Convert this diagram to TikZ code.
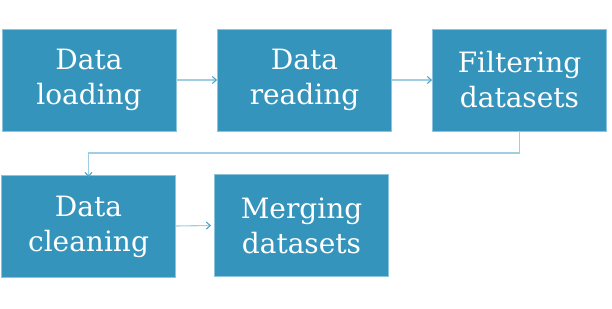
\documentclass[tikz,border=0pt]{standalone}
\usepackage{fontspec}
\setmainfont{DejaVu Serif}
\usetikzlibrary{arrows.meta}
\definecolor{boxfill}{HTML}{3594BB}
\definecolor{boxedge}{HTML}{8CC4DC}
\definecolor{linkcol}{HTML}{9FCFE3}
\definecolor{tipcol}{HTML}{4FA3CC}
\begin{document}
\begin{tikzpicture}[x=1pt,y=-1pt,
  stepbox/.style={draw=boxedge, line width=0.8pt, fill=boxfill, text=white,
    minimum width=174pt, minimum height=102pt, inner sep=0pt,
    align=center, font=\fontsize{28}{35}\selectfont},
  link/.style={draw=linkcol, line width=1.1pt,
    -{Straight Barb[length=4pt,width=7pt,color=tipcol]}}]
  \useasboundingbox (0,0) rectangle (612,308);
  \node[stepbox] (load)  at (89,80)      {Data\\loading};
  \node[stepbox] (read)  at (304.5,80)   {Data\\reading};
  \node[stepbox] (filt)  at (519.5,80)   {Filtering\\datasets};
  \node[stepbox] (clean) at (88.5,226.5) {Data\\cleaning};
  \node[stepbox] (merge) at (301.5,225.5) {Merging\\datasets};
  \draw[link] (load.east) -- (read.west);
  \draw[link] (read.east) -- (filt.west);
  \coordinate (bend) at (0,153);
  \draw[link] (filt.south) -- (filt.south |- bend) -| ([yshift=-2pt]clean.north);
  \draw[link] ([yshift=0.5pt]clean.east) -- ([xshift=-3pt]merge.west);
\end{tikzpicture}
\end{document}
